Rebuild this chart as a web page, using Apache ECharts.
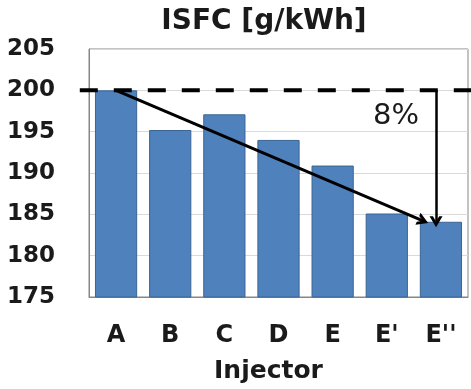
<!DOCTYPE html>
<html><head><meta charset="utf-8">
<script src="https://cdn.jsdelivr.net/npm/echarts@6/dist/echarts.min.js"></script>
<style>html,body{margin:0;padding:0;background:#fff}#c{width:471px;height:389px}</style>
</head><body><div id="c"></div>
<script>
// ---- data ----
const categories = ['A', 'B', 'C', 'D', 'E', "E'", "E''"];
const isfc = [200.0, 195.2, 197.1, 194.0, 190.9, 185.1, 184.1];
const yMin = 175, yMax = 205, yStep = 5;
const referenceValue = 200;
const dashedSpan = [-0.67, 6.56];          // category-index positions of the dashed reference line ends
const trendArrow = [[0, 200], [5.67, 184.2]];
const dropArrow = [[5.91, 200], [5.91, 184.1]];
const dropLabelText = '8%';
const dropLabelAt = [5.17, 196.8];
const titleText = 'ISFC [g/kWh]';
const xAxisTitle = 'Injector';

const FONT = 'DejaVu Sans';
const INK = '#1a1a1a';
const arrowHead = 'path://M0,10 L5,0 L10,10 L7.4,10 L5,5.2 L2.6,10 Z';

const chart = echarts.init(document.getElementById('c'), null, {renderer: 'canvas'});
chart.setOption({
  animation: false,
  backgroundColor: '#fff',
  title: {
    text: titleText, left: 264, top: 8, textAlign: 'center', padding: 0,
    textStyle: {fontFamily: FONT, fontWeight: 'bold', fontSize: 28, color: INK}
  },
  grid: {left: 89, right: 3, top: 49, bottom: 92, show: true, borderColor: '#868686', borderWidth: 1, containLabel: false},
  xAxis: [{
    type: 'category', data: categories,
    axisTick: {show: false},
    axisLine: {onZero: false, lineStyle: {color: '#868686', width: 1}},
    axisLabel: {fontFamily: FONT, fontWeight: 'bold', fontSize: 24, color: INK, margin: 27, interval: 0},
    name: xAxisTitle, nameLocation: 'middle', nameGap: 62,
    nameTextStyle: {fontFamily: FONT, fontWeight: 'bold', fontSize: 25, color: INK, padding: [0, 20, 0, 0]}
  }, {
    type: 'value', min: -0.5, max: 6.5, show: false
  }],
  yAxis: {
    type: 'value', min: yMin, max: yMax, interval: yStep,
    axisLine: {show: true, onZero: false, lineStyle: {color: '#868686', width: 1}},
    axisTick: {show: false},
    splitLine: {lineStyle: {color: '#d9d9d9', width: 1}},
    axisLabel: {fontFamily: FONT, fontWeight: 'bold', fontSize: 23, color: INK, margin: 34}
  },
  series: [{
    type: 'bar', data: isfc, barCategoryGap: '22%',
    itemStyle: {color: '#4f81bd', borderColor: '#3a6594', borderWidth: 1},
    silent: true
  }, {
    type: 'line', xAxisIndex: 1, yAxisIndex: 0, data: [], clip: false, silent: true,
    markLine: {
      silent: true, animation: false,
      label: {show: false},
      emphasis: {disabled: true},
      data: [
        [{coord: trendArrow[0], symbol: 'none', lineStyle: {color: '#000', width: 3, type: 'solid'}},
         {coord: trendArrow[1], symbol: arrowHead, symbolSize: [13, 11]}],
        [{coord: dropArrow[0], symbol: 'none', lineStyle: {color: '#000', width: 2.5, type: 'solid'}},
         {coord: dropArrow[1], symbol: arrowHead, symbolSize: [13, 11]}]
      ]
    },
    markPoint: {
      silent: true,
      data: [{coord: dropLabelAt, symbol: 'rect', symbolSize: 1, itemStyle: {color: 'rgba(0,0,0,0)'},
        label: {show: true, position: 'inside', formatter: dropLabelText, fontFamily: FONT, fontSize: 29, color: INK}}]
    }
  }]
});

// dashed reference line at 200, positioned through the chart's own scales
const p0 = chart.convertToPixel({xAxisIndex: 1, yAxisIndex: 0}, [dashedSpan[0], referenceValue]);
const p1 = chart.convertToPixel({xAxisIndex: 1, yAxisIndex: 0}, [dashedSpan[1], referenceValue]);
chart.setOption({
  graphic: [{
    type: 'line', silent: true, z: 50,
    shape: {x1: p0[0], y1: p0[1], x2: p1[0], y2: p1[1]},
    style: {stroke: '#000', lineWidth: 4, lineDash: [18, 16]}
  }]
});
</script></body></html>
